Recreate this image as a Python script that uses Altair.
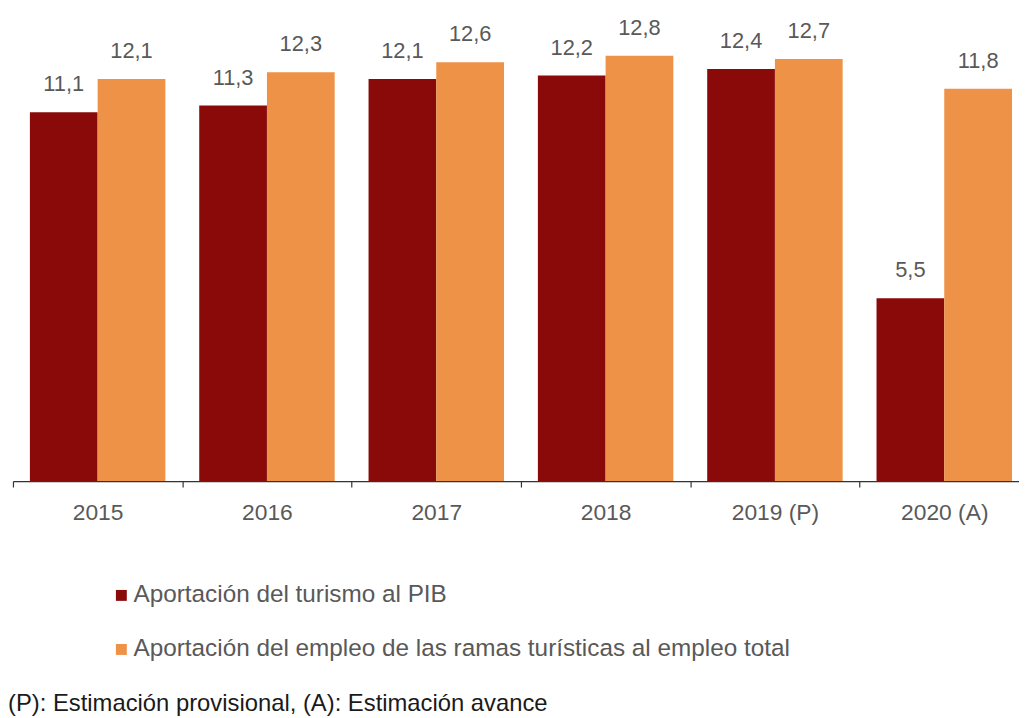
import altair as alt
import pandas as pd

years = ["2015", "2016", "2017", "2018", "2019 (P)", "2020 (A)"]
pib = [11.1, 11.3, 12.1, 12.2, 12.4, 5.5]
empleo = [12.1, 12.3, 12.6, 12.8, 12.7, 11.8]
series = [
    "Aportación del turismo al PIB",
    "Aportación del empleo de las ramas turísticas al empleo total",
]
colors = ["#8A0A0A", "#EE9248"]
footnote = "(P): Estimación provisional, (A): Estimación avance"

rows = []
for i, y in enumerate(years):
    rows.append({"year": y, "serie": series[0], "order": 0, "value": pib[i]})
    rows.append({"year": y, "serie": series[1], "order": 1, "value": empleo[i]})
df = pd.DataFrame(rows)
df["label"] = df["value"].map(lambda v: f"{v:.1f}".replace(".", ","))

x_enc = alt.X(
    "year:N",
    sort=years,
    title=None,
    scale=alt.Scale(paddingInner=0, paddingOuter=0, range=[0, 1024]),
    axis=alt.Axis(
        labelAngle=0,
        labelFontSize=23,
        labelColor="#595959",
        labelPadding=15,
        tickBand="extent",
        tickSize=6,
        tickColor="#333333",
        domainColor="#333333",
        domainWidth=1.2,
        tickWidth=1.2,
    ),
)
xoff = alt.XOffset(
    "serie:N", sort=series, scale=alt.Scale(paddingOuter=0.25, paddingInner=0)
)
y_enc = alt.Y("value:Q", scale=alt.Scale(domain=[0, 14]), axis=None)

bars = alt.Chart(df).mark_bar().encode(
    x=x_enc,
    xOffset=xoff,
    y=y_enc,
    color=alt.Color(
        "serie:N",
        sort=series,
        scale=alt.Scale(domain=series, range=colors),
        legend=alt.Legend(
            title=None,
            orient="none",
            legendX=97,
            legendY=572,
            direction="vertical",
            symbolType="square",
            symbolSize=121,
            symbolStrokeWidth=0,
            labelFontSize=24.5,
            labelColor="#595959",
            labelOffset=0,
            labelLimit=0,
            rowPadding=29.5,
        ),
    ),
)

labels = alt.Chart(df).mark_text(
    fontSize=22, color="#595959", baseline="alphabetic", dy=-21
).encode(x=x_enc, xOffset=xoff, y=y_enc, text="label:N")

foot = alt.Chart(pd.DataFrame({"t": [footnote]})).mark_text(
    fontSize=24, color="#1a1a1a", align="left", baseline="alphabetic"
).encode(x=alt.value(-5), y=alt.value(701), text="t:N")

chart = (
    alt.layer(bars, labels, foot)
    .properties(
        width=1006,
        height=469,
        autosize=alt.AutoSizeParams(type="none"),
        padding={"left": 5, "top": 5, "right": 8, "bottom": 236},
    )
    .configure(font="Liberation Sans")
    .configure_view(stroke=None)
)

chart.save("out.html", embed_options={"renderer": "svg", "actions": False})
